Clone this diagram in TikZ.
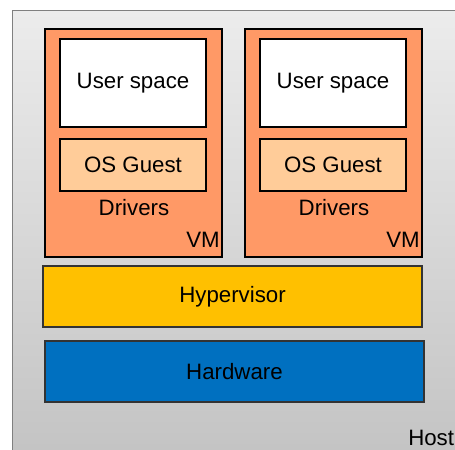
\documentclass[tikz,border=0pt]{standalone}
\usepackage{fontspec}
\setmainfont{Liberation Sans}
\definecolor{vmorange}{RGB}{255,153,102}
\definecolor{guestpeach}{RGB}{255,204,153}
\definecolor{hypyellow}{RGB}{255,192,0}
\definecolor{hwblue}{RGB}{0,112,192}
\definecolor{hosttop}{RGB}{236,236,236}
\definecolor{hostbottom}{RGB}{194,194,194}
\begin{document}
\begin{tikzpicture}[x=0.75pt,y=-0.75pt,
    every node/.style={font=\fontsize{16.7}{20}\selectfont},
    vmbox/.style={draw=black,line width=1.6pt,fill=vmorange,minimum width=132.75pt,minimum height=171pt},
    userbox/.style={draw=black,line width=1.5pt,fill=white,minimum width=109.5pt,minimum height=66pt},
    guestbox/.style={draw=black,line width=1.5pt,fill=guestpeach,minimum width=109.5pt,minimum height=39pt},
    layerbox/.style={draw=black!80,line width=0.8pt,minimum width=284.25pt,minimum height=45.75pt}]
    \useasboundingbox (0,0) rectangle (455,450);
    \clip (0,0) rectangle (455,450);
    \node[draw=black!50,line width=1.1pt,top color=hosttop,bottom color=hostbottom,
        minimum width=351pt,minimum height=345pt,anchor=north west] (host) at (12,10) {};
    \node (hostlabel) at (408,438) [anchor=west,inner sep=0pt] {Host};

    \node[vmbox] (vmA) at (133.5,143) {};
    \node[userbox] (userA) at (133,83) {User space};
    \node[guestbox] (guestA) at (133,165) {OS Guest};
    \node (driversA) at (134,208) {Drivers};
    \node (vmlabelA) at (220,240) [anchor=east,inner sep=0pt] {VM};

    \node[vmbox] (vmB) at (333.5,143) {};
    \node[userbox] (userB) at (333,83) {User space};
    \node[guestbox] (guestB) at (333,165) {OS Guest};
    \node (driversB) at (334,208) {Drivers};
    \node (vmlabelB) at (420,240) [anchor=east,inner sep=0pt] {VM};

    \node[layerbox,fill=hypyellow] (hyper) at (232.5,296.5) {Hypervisor};
    \node[layerbox,fill=hwblue] (hw) at (234.5,371.5) {Hardware};
\end{tikzpicture}
\end{document}
